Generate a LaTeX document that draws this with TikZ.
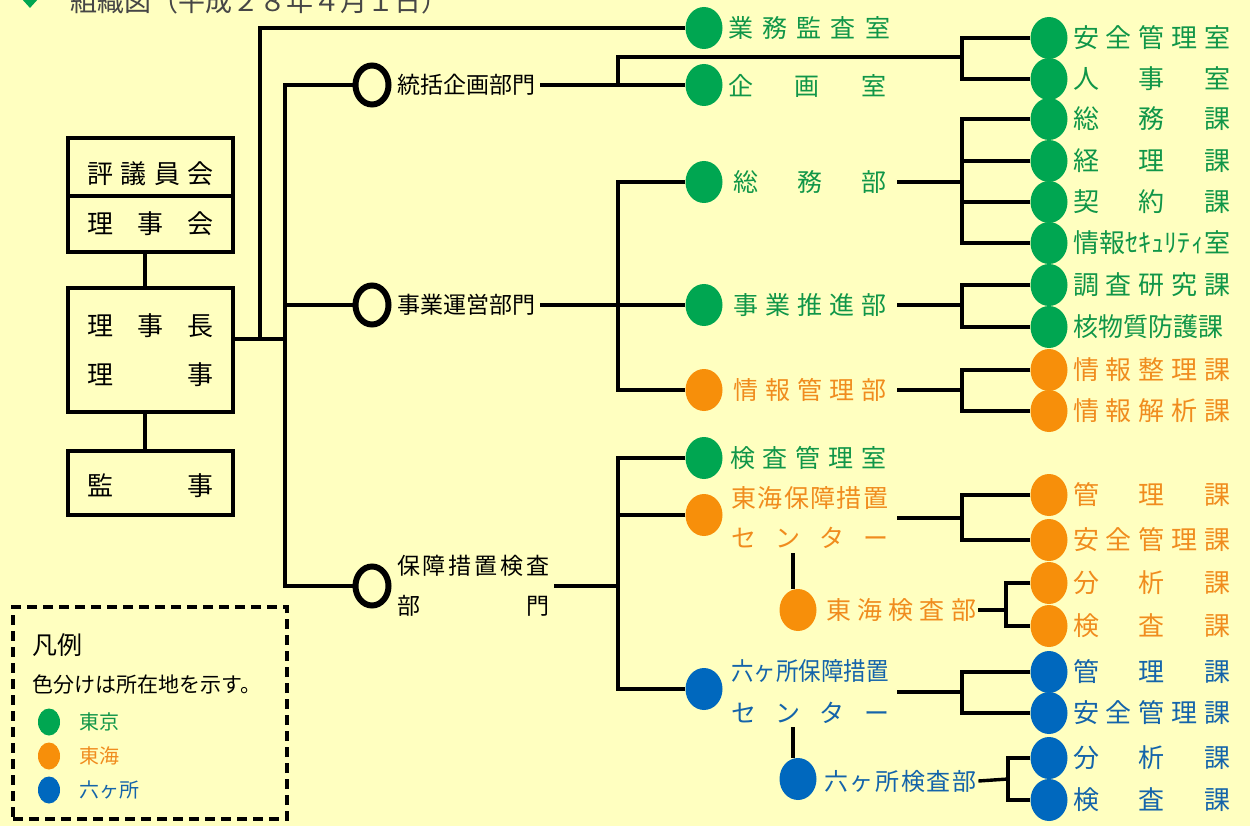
\documentclass[tikz,border=0pt]{standalone}
\usepackage{fontspec}
\setmainfont{Noto Sans CJK JP}
\usepackage{graphicx}
\usetikzlibrary{shapes.geometric}
\newcommand{\sprd}[2]{\makebox[#1pt][s]{#2}}
\definecolor{bgy}{RGB}{255,255,192}
\definecolor{gdot}{RGB}{0,166,81}
\definecolor{odot}{RGB}{247,143,10}
\definecolor{bdot}{RGB}{0,104,190}
\definecolor{gtxt}{RGB}{16,150,72}
\definecolor{otxt}{RGB}{240,140,30}
\definecolor{btxt}{RGB}{20,100,170}
\definecolor{ttl}{RGB}{70,70,70}
\begin{document}
\begin{tikzpicture}[x=1pt,y=-1pt,
  conn/.style={line width=3.4pt, draw=black},
  orgbox/.style={draw=black, line width=3.4pt, minimum width=165, inner sep=0, font=\fontsize{26}{26}\selectfont},
  ringn/.style={ellipse, draw=black, line width=6pt, minimum width=33, minimum height=39, inner sep=0},
  dotn/.style={ellipse, inner sep=0, minimum width=37, minimum height=42},
  gd/.style={dotn, fill=gdot},
  od/.style={dotn, fill=odot},
  bd/.style={dotn, fill=bdot},
  lbl/.style={anchor=west, inner sep=0},
  rl/.style={lbl, font=\fontsize{26}{26}\selectfont},
  ml/.style={lbl, font=\fontsize{25}{40}\selectfont},
  bl/.style={lbl, font=\fontsize{23}{40}\selectfont, text=black},
]
\useasboundingbox (0,0) rectangle (1250,826);
\clip (0,0) rectangle (1250,826);
\fill[bgy] (0,0) rectangle (1250,826);

% title
\node[diamond, fill=gdot, inner sep=0, minimum width=20, minimum height=22] (dia) at (30,-3) {};
\node[anchor=base west, inner sep=0, text=ttl, font=\fontsize{27}{27}\selectfont] (title) at (70,12) {組織図（平成２８年４月１日）};

% left boxes
\node[orgbox, minimum height=58] (hy) at (150.5,167) {\raisebox{-7pt}[\height][\depth]{\sprd{127}{評\hfil 議\hfil 員\hfil 会}}};
\node[orgbox, minimum height=56] (rjk) at (150.5,224) {\sprd{127}{理\hfil 事\hfil 会}};
\node[orgbox, minimum height=124, align=left, font=\fontsize{26}{49}\selectfont] (rjc) at (150.5,350) {\sprd{127}{理\hfil 事\hfil 長}\\\sprd{127}{理\hfil 事}};
\node[orgbox, minimum height=64] (kj) at (150.5,483) {\raisebox{-3pt}[\height][\depth]{\sprd{127}{監\hfil 事}}};

% rings and level-1 labels
\node[ringn] (r1) at (372,85) {};
\node[ringn] (r2) at (372,305) {};
\node[ringn] (r3) at (372,586) {};
\node[bl] (l1) at (397,85) {\sprd{140}{統括企画部門}};
\node[bl] (l2) at (397,305) {\sprd{140}{事業運営部門}};
\node[bl, align=left] (l3) at (397,586) {\sprd{152}{保\hfil 障\hfil 措\hfil 置\hfil 検\hfil 査}\\\sprd{152}{部\hfil 門}};

% coordinates
\coordinate (t1) at (260,339);
\coordinate (t2) at (285,339);
\coordinate (c1) at (618,85);
\coordinate (j1) at (962,57);
\coordinate (c2) at (618,305);
\coordinate (j2) at (962,182);
\coordinate (j3) at (962,305);
\coordinate (j4) at (962,390);
\coordinate (c3) at (618,586);
\coordinate (j5) at (962,518);
\coordinate (s1) at (793,553);
\coordinate (j6) at (1006,610);
\coordinate (j7) at (962,692);
\coordinate (s2) at (793,727);
\coordinate (j8) at (1008,779);

% mid dots
\node[gd] (gk) at (704,28) {};
\node[gd] (kk) at (704,85) {};
\node[gd] (sm) at (704,182) {};
\node[gd] (js) at (704,305) {};
\node[od] (jk) at (704,390) {};
\node[gd] (kr) at (704,458) {};
\node[od] (tc) at (704,515) {};
\node[bd] (rc) at (704,689) {};
\node[od] (tk) at (798,610) {};
\node[bd] (rk) at (798,779) {};

% mid labels
\node[ml, text=gtxt] (gk_t) at (728,28) {\sprd{162}{業\hfil 務\hfil 監\hfil 査\hfil 室}};
\node[ml, text=gtxt] (kk_t) at (728,86) {\sprd{158}{企\hfil 画\hfil 室}};
\node[ml, text=gtxt] (sm_t) at (733,182) {\sprd{153}{総\hfil 務\hfil 部}};
\node[ml, text=gtxt] (js_t) at (733,305) {\sprd{153}{事\hfil 業\hfil 推\hfil 進\hfil 部}};
\node[ml, text=otxt] (jk_t) at (733,390) {\sprd{153}{情\hfil 報\hfil 管\hfil 理\hfil 部}};
\node[ml, text=gtxt] (kr_t) at (730,458) {\sprd{156}{検\hfil 査\hfil 管\hfil 理\hfil 室}};
\node[ml, text=otxt, align=left] (tc_t) at (731,518) {\sprd{157}{東\hfil 海\hfil 保\hfil 障\hfil 措\hfil 置}\\\sprd{157}{セ\hfil ン\hfil タ\hfil ー}};
\node[ml, text=btxt, align=left, font=\fontsize{25}{42}\selectfont] (rc_t) at (731,692) {\makebox[158pt][l]{\scalebox{0.9}[1]{六ヶ所保障措置}}\\\sprd{158}{セ\hfil ン\hfil タ\hfil ー}};
\node[ml, text=otxt] (tk_t) at (826,610) {\sprd{150}{東\hfil 海\hfil 検\hfil 査\hfil 部}};
\node[ml, text=btxt, font=\fontsize{24}{24}\selectfont] (rk_t) at (824,781) {\sprd{152}{六\hfil ヶ\hfil 所\hfil 検\hfil 査\hfil 部}};

% right dots and labels
\node[gd] (az) at (1049,38) {};
\node[gd] (jj) at (1049,79) {};
\node[gd] (smk) at (1049,119) {};
\node[gd] (krk) at (1049,161) {};
\node[gd] (kyk) at (1049,202) {};
\node[gd] (sec) at (1049,243) {};
\node[gd] (cks) at (1049,285) {};
\node[gd] (kbs) at (1049,327) {};
\node[od] (jsr) at (1049,370) {};
\node[od] (jks) at (1049,411) {};
\node[od] (tkr) at (1049,495) {};
\node[od] (tan) at (1049,540) {};
\node[od] (tbs) at (1049,583) {};
\node[od] (tks) at (1049,626) {};
\node[bd] (rkr) at (1049,672) {};
\node[bd] (ran) at (1049,713) {};
\node[bd] (rbs) at (1049,758) {};
\node[bd] (rks) at (1049,800) {};

\node[rl, text=gtxt] (az_t) at (1073,38) {\sprd{157}{安\hfil 全\hfil 管\hfil 理\hfil 室}};
\node[rl, text=gtxt] (jj_t) at (1073,79) {\sprd{157}{人\hfil 事\hfil 室}};
\node[rl, text=gtxt] (smk_t) at (1073,119) {\sprd{157}{総\hfil 務\hfil 課}};
\node[rl, text=gtxt] (krk_t) at (1073,161) {\sprd{157}{経\hfil 理\hfil 課}};
\node[rl, text=gtxt] (kyk_t) at (1073,202) {\sprd{157}{契\hfil 約\hfil 課}};
\node[rl, text=gtxt] (sec_t) at (1073,243) {\sprd{157}{情\hfil 報\hfil ｾ\hfil ｷ\hfil ｭ\hfil ﾘ\hfil ﾃ\hfil ｨ\hfil 室}};
\node[rl, text=gtxt] (cks_t) at (1073,285) {\sprd{157}{調\hfil 査\hfil 研\hfil 究\hfil 課}};
\node[rl, text=gtxt] (kbs_t) at (1073,327) {\makebox[157pt][l]{\scalebox{0.96}[1]{核物質防護課}}};
\node[rl, text=otxt] (jsr_t) at (1073,370) {\sprd{157}{情\hfil 報\hfil 整\hfil 理\hfil 課}};
\node[rl, text=otxt] (jks_t) at (1073,411) {\sprd{157}{情\hfil 報\hfil 解\hfil 析\hfil 課}};
\node[rl, text=otxt] (tkr_t) at (1073,495) {\sprd{157}{管\hfil 理\hfil 課}};
\node[rl, text=otxt] (tan_t) at (1073,540) {\sprd{157}{安\hfil 全\hfil 管\hfil 理\hfil 課}};
\node[rl, text=otxt] (tbs_t) at (1073,583) {\sprd{157}{分\hfil 析\hfil 課}};
\node[rl, text=otxt] (tks_t) at (1073,626) {\sprd{157}{検\hfil 査\hfil 課}};
\node[rl, text=btxt] (rkr_t) at (1073,672) {\sprd{157}{管\hfil 理\hfil 課}};
\node[rl, text=btxt] (ran_t) at (1073,713) {\sprd{157}{安\hfil 全\hfil 管\hfil 理\hfil 課}};
\node[rl, text=btxt] (rbs_t) at (1073,758) {\sprd{157}{分\hfil 析\hfil 課}};
\node[rl, text=btxt] (rks_t) at (1073,800) {\sprd{157}{検\hfil 査\hfil 課}};

% connectors
\draw[conn] ([xshift=-5.5pt]rjk.south) -- ([xshift=-5.5pt]rjc.north);
\draw[conn] ([xshift=-5.5pt]rjc.south) -- ([xshift=-5.5pt]kj.north);
\draw[conn] ([yshift=11pt]rjc.east) -- (t2);
\draw[conn] (t1) |- (gk.west);
\draw[conn] (r1.west) -| (t2) |- (r3.west);
\draw[conn] (r2.west) -- (r2.west -| t2);
\draw[conn] ([xshift=3pt]l1.east) -- (kk.west);
\draw[conn] (c1) |- (j1);
\draw[conn] (az.west) -| (j1) |- (jj.west);
\draw[conn] ([xshift=3pt]l2.east) -- (js.west);
\draw[conn] (sm.west) -| (c2) |- (jk.west);
\draw[conn] ([xshift=11pt]sm_t.east) -- (j2);
\draw[conn] (smk.west) -| (j2) |- (sec.west);
\draw[conn] (krk.west) -- (krk.west -| j2);
\draw[conn] (kyk.west) -- (kyk.west -| j2);
\draw[conn] ([xshift=11pt]js_t.east) -- (j3);
\draw[conn] (cks.west) -| (j3) |- (kbs.west);
\draw[conn] ([xshift=11pt]jk_t.east) -- (j4);
\draw[conn] (jsr.west) -| (j4) |- (jks.west);
\draw[conn] ([xshift=5pt]l3.east) -- (c3);
\draw[conn] (kr.west) -| (c3) |- (rc.west);
\draw[conn] (tc.west) -- (tc.west -| c3);
\draw[conn] ([xshift=9pt]tc_t.east) -- (j5);
\draw[conn] (tkr.west) -| (j5) |- (tan.west);
\draw[conn] (s1) -- (s1 |- tk.north);
\draw[conn] ([xshift=2pt]tk_t.east) -- (j6);
\draw[conn] (tbs.west) -| (j6) |- (tks.west);
\draw[conn] ([xshift=8pt]rc_t.east) -- (j7);
\draw[conn] (rkr.west) -| (j7) |- (ran.west);
\draw[conn] (s2) -- (s2 |- rk.north);
\draw[conn] ([xshift=2pt]rk_t.east) -- (j8);
\draw[conn] (rbs.west) -| (j8) |- (rks.west);

% legend
\node[draw=black, line width=3.2pt, dash pattern=on 10pt off 6pt, minimum width=274, minimum height=212, inner sep=0] (leg) at (150,713) {};
\node[lbl, font=\fontsize{25}{25}\selectfont] (hanrei) at (32,645) {凡例};
\node[lbl, font=\fontsize{21}{21}\selectfont] (iro) at (32,685) {色分けは所在地を示す。};
\node[ellipse, fill=gdot, inner sep=0, minimum width=22, minimum height=27] (lg) at (49,722) {};
\node[ellipse, fill=odot, inner sep=0, minimum width=22, minimum height=27] (lo) at (49,756) {};
\node[ellipse, fill=bdot, inner sep=0, minimum width=22, minimum height=27] (lb) at (49,790) {};
\node[lbl, text=gtxt, font=\fontsize{20}{20}\selectfont] (lg_t) at (79,722) {東京};
\node[lbl, text=otxt, font=\fontsize{20}{20}\selectfont] (lo_t) at (79,756) {東海};
\node[lbl, text=btxt, font=\fontsize{20}{20}\selectfont] (lb_t) at (79,790) {六ヶ所};
\end{tikzpicture}
\end{document}
